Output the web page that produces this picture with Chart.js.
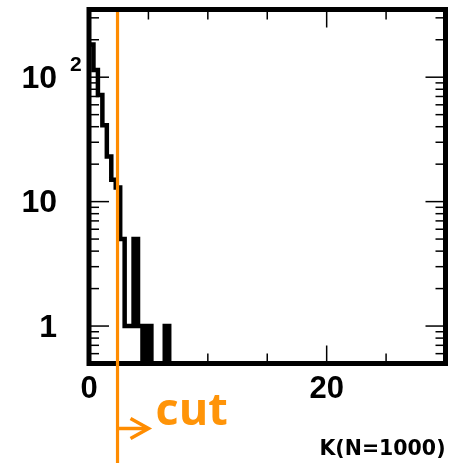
<!DOCTYPE html>
<html>
<head>
<meta charset="utf-8">
<script src="https://cdn.jsdelivr.net/npm/chart.js@4.4.0/dist/chart.umd.min.js"></script>
<style>
  html, body { margin: 0; padding: 0; background: #fff; }
</style>
</head>
<body>
<canvas id="myChart" width="462" height="463"></canvas>
<script>
// contenu des bins de l'histogramme K (bins de 0.375 depuis 0, les suivants sont vides)
const binWidth = 0.375;
const binCounts = [183, 114, 72, 41, 23, 15, 13, 5, 1, 1, 5, 1, 0, 1, 0, 0, 0, 1];
const xRange = [0, 30];
const yRange = [0.5, 350];
const xMajorTicks = [0, 20];
const xMinorTicks = [5, 10, 15, 25];
const yMajorTicks = [1, 10, 100];
const yMinorTicks = [0.6, 0.7, 0.8, 0.9, 2, 3, 4, 5, 6, 7, 8, 9, 20, 30, 40, 50, 60, 70, 80, 90, 200, 300];
const xTickLabels = { 0: '0', 20: '20' };
const yTickLabels = { 1: '1', 10: '10', 100: '10' }; // l'exposant de 10^2 est dessiné à part
const yExponent = '2';
const cutValue = 2.4;
const cutLabel = 'cut';
const xTitle = 'K(N=1000)';

const orange = '#ff8c00';
const labelFont = '"Liberation Sans", Arial, sans-serif';

// les bins vides ne peuvent pas aller sur l'échelle log : on les descend sous le cadre
const emptyLevel = 0.05;
const points = binCounts.map((c, i) => ({ x: xRange[0] + i * binWidth, y: c > 0 ? c : emptyLevel }));
points.push({ x: xRange[0] + binCounts.length * binWidth, y: emptyLevel });
points.push({ x: xRange[1], y: emptyLevel });

function drawLine(ctx, x1, y1, x2, y2) {
    ctx.beginPath();
    ctx.moveTo(x1, y1);
    ctx.lineTo(x2, y2);
    ctx.stroke();
}

// cadre façon ROOT, graduations intérieures, ligne de coupure et textes
const framePlugin = {
    id: 'frame',
    afterDatasetsDraw(chart) {
        const { ctx, chartArea: a, scales: { x, y } } = chart;
        ctx.save();

        ctx.strokeStyle = '#000';
        ctx.lineWidth = 1.5;
        const yTicks = [...yMajorTicks.map(v => [v, 20]), ...yMinorTicks.map(v => [v, 10])];
        yTicks.forEach(([v, len]) => {
            const py = y.getPixelForValue(v);
            drawLine(ctx, a.left, py, a.left + len, py);
            drawLine(ctx, a.right, py, a.right - len, py);
        });
        const xTicks = [...xMajorTicks.map(v => [v, 18]), ...xMinorTicks.map(v => [v, 10])];
        xTicks.forEach(([v, len]) => {
            const px = x.getPixelForValue(v);
            drawLine(ctx, px, a.bottom, px, a.bottom - len);
            drawLine(ctx, px, a.top, px, a.top + len);
        });

        ctx.lineWidth = 5;
        ctx.strokeRect(a.left, a.top, a.right - a.left, a.bottom - a.top);

        // exposant du label 10^2
        ctx.fillStyle = '#000';
        ctx.font = 'bold 21px ' + labelFont;
        ctx.textAlign = 'left';
        ctx.textBaseline = 'middle';
        ctx.fillText(yExponent, y.right - 32 + 13, y.getPixelForValue(100) - 11.5);

        // titre de l'axe x
        ctx.font = 'bold 20.5px "DejaVu Sans", sans-serif';
        ctx.textAlign = 'right';
        ctx.textBaseline = 'alphabetic';
        ctx.fillText(xTitle, a.right, 455);

        // ligne de coupure + flèche
        const cx = x.getPixelForValue(cutValue);
        ctx.strokeStyle = orange;
        ctx.lineWidth = 3.2;
        drawLine(ctx, cx, a.top + 2.5, cx, chart.height);
        const ay = a.bottom + 65;
        ctx.lineWidth = 3.5;
        drawLine(ctx, cx, ay, cx + 30, ay);
        ctx.lineJoin = 'miter';
        ctx.beginPath();
        ctx.moveTo(cx + 13, ay - 10);
        ctx.lineTo(cx + 31, ay);
        ctx.lineTo(cx + 13, ay + 10);
        ctx.stroke();
        ctx.fillStyle = '#ff9408';
        ctx.font = 'bold 45px "Open Sans", "DejaVu Sans", sans-serif';
        ctx.textAlign = 'left';
        ctx.fillText(cutLabel, cx + 38, ay - 4);

        ctx.restore();
    }
};

const ctx = document.getElementById('myChart').getContext('2d');
const myChart = new Chart(ctx, {
    type: 'line',
    data: {
        datasets: [{
            data: points,
            borderColor: '#000',
            borderWidth: 4.5,
            pointRadius: 0,
            stepped: true,
            fill: false
        }]
    },
    options: {
        responsive: false,
        animation: false,
        layout: { padding: { top: 9.5, right: 16.5, left: 0, bottom: 0 } },
        plugins: { legend: { display: false }, tooltip: { enabled: false } },
        scales: {
            x: {
                type: 'linear',
                min: xRange[0],
                max: xRange[1],
                grid: { display: false, drawTicks: false },
                border: { display: false },
                afterBuildTicks: s => { s.ticks = xMajorTicks.map(v => ({ value: v })); },
                afterFit: s => {
                    s.height = 99.5;
                    s.paddingLeft = 0; s.paddingRight = 0;
                },
                ticks: {
                    callback: v => xTickLabels[v],
                    font: { family: labelFont, size: 31, weight: 'bold' },
                    color: '#000',
                    padding: 7,
                    maxRotation: 0,
                    autoSkip: false
                }
            },
            y: {
                type: 'logarithmic',
                min: yRange[0],
                max: yRange[1],
                grid: { display: false, drawTicks: false },
                border: { display: false },
                afterBuildTicks: s => { s.ticks = yMajorTicks.map(v => ({ value: v })); },
                afterFit: s => {
                    s.width = 89;
                    s.paddingTop = 0; s.paddingBottom = 0;
                },
                ticks: {
                    callback: v => yTickLabels[v],
                    font: { family: labelFont, size: 32, weight: 'bold' },
                    color: '#000',
                    padding: 32,
                    labelOffset: 2,
                    autoSkip: false
                }
            }
        }
    },
    plugins: [framePlugin]
});
</script>
</body>
</html>
